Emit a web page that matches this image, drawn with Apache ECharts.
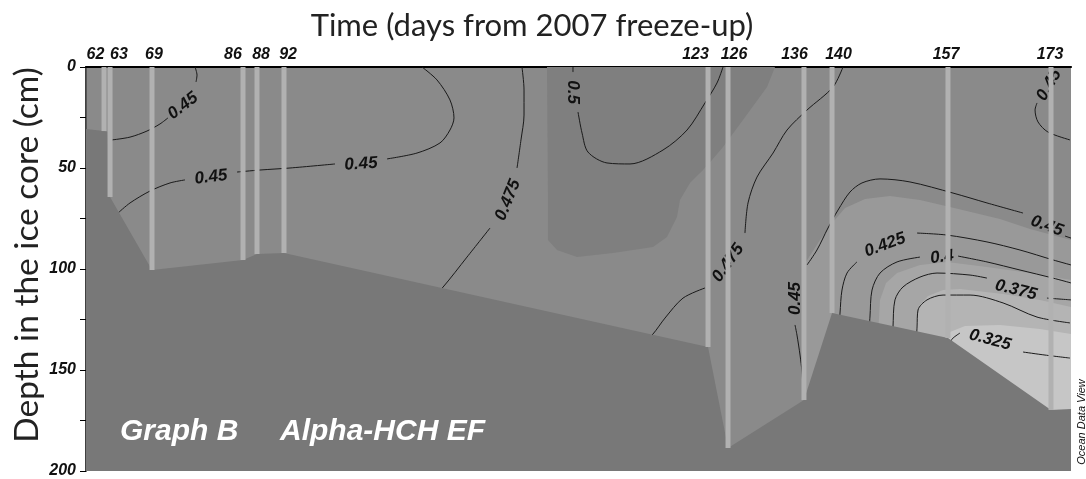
<!DOCTYPE html>
<html><head><meta charset="utf-8">
<script src="https://cdn.jsdelivr.net/npm/echarts@6/dist/echarts.min.js"></script>
<style>html,body{margin:0;padding:0;background:#fff}#c{width:1086px;height:479px}</style>
</head><body><div id="c"></div>
<script>
// ---- stations (top axis) ----
const stationDays = [62, 63, 69, 86, 88, 92, 123, 126, 136, 140, 157, 173];
const stationPos  = [1.83, 2.44, 6.70, 15.94, 17.36, 20.10, 63.15, 65.18, 72.89, 75.74, 87.51, 97.97];
const coreLength  = [31.7, 64.4, 100.5, 95.5, 92.6, 92.1, 138.6, 188.6, 164.9, 121.8, 134.2, 169.8];
const dayLabelPos = [0.96, 3.35, 6.90, 14.92, 17.77, 20.51, 61.88, 65.79, 71.93, 76.40, 87.31, 97.87];
const depthTicks  = [0, 50, 100, 150, 200];

// ---- shaded regions (position, depth cm) ----
const iceBase = [[0,30.7],[1.83,31.7],[2.2,32.0],[2.35,64.0],[2.44,64.4],[6.70,100.5],[15.94,95.5],[17.36,92.6],[20.10,92.1],[63.15,138.6],[65.18,188.6],[72.89,164.9],[75.74,121.8],[87.51,134.2],[97.97,169.8],[100,169.3],[100,200],[0,200]];
const highPatch = [[46.80,0],[69.95,0],[69.14,9.9],[66.70,26.2],[64.67,39.6],[63.55,46.0],[62.64,51.0],[61.32,57.4],[60.30,65.8],[60.00,74.3],[58.98,84.2],[57.56,89.1],[53.50,92.1],[49.85,94.1],[47.82,90.6],[46.90,85.6],[46.90,65.8]];
const lowBand1 = [[72.89,200],[72.89,98.0],[74.52,85.6],[75.84,76.7],[77.06,69.8],[79.09,65.3],[81.62,63.9],[84.67,65.8],[87.72,69.3],[92.79,75.2],[95.84,80.2],[100,85.6],[100,200]];
const lowBand2 = [[80.41,200],[80.41,132.7],[80.61,115.3],[81.22,106.9],[82.34,102.0],[84.67,98.0],[87.41,96.5],[91.47,99.0],[95.84,102.0],[100,105.4],[100,200]];
const lowBand3 = [[84.16,200],[84.16,137.6],[84.37,124.3],[84.67,117.8],[85.48,113.4],[87.01,110.4],[88.73,109.9],[93.10,112.4],[96.85,115.3],[100,118.8],[100,200]];
const lowBand4 = [[87.21,200],[87.21,137.6],[87.72,131.2],[89.24,128.2],[92.79,127.7],[96.85,129.7],[100,132.2],[100,200]];

// ---- contour line segments ----
const iso045a1 = [[11.07,0],[11.27,4.0],[11.17,7.4]];
const iso045a2 = [[8.32,25.2],[7.51,28.2],[6.19,31.7],[4.47,34.7],[2.64,36.1]];
const iso045b1 = [[3.25,72.3],[4.47,67.3],[6.50,61.4],[8.53,57.4],[10.05,55.9]];
const iso045b2 = [[15.33,52.0],[17.66,51.0],[20.71,50.0],[25.28,48.0]];
const iso045b3 = [[30.56,45.5],[33.60,42.6],[35.94,37.6],[36.95,31.2],[37.36,25.2],[36.95,16.3],[35.63,6.4],[34.11,0]];
const iso0475a1 = [[44.26,0],[44.47,11.4],[44.47,23.8],[44.16,36.1],[43.76,50.0]];
const iso0475a2 = [[41.02,79.7],[38.68,94.1],[36.24,109.0],[35.5,112]];
const iso05a = [[49.44,0],[49.44,2.5]];
const iso05b = [[49.95,22.3],[50.36,32.7],[50.96,42.1],[52.89,47.5],[55.23,48.0],[58.58,41.1],[61.02,31.2],[62.84,17.8],[64.06,7.9],[64.67,0]];
const iso0475b1 = [[76.85,0],[75.84,9.9],[73.20,21.3],[71.17,31.2],[69.75,42.6],[68.12,54.5],[67.21,67.3],[66.90,82.2]];
const iso0475b2 = [[62.84,109.4],[60.61,114.4],[58.78,124.3],[57.56,132.2],[56.5,137]];
const iso045c1 = [[72.8,160],[72.69,151.0],[72.49,142.6],[72.18,132.7],[71.98,127.7]];
const iso045c2 = [[73.20,98.0],[74.21,90.6],[75.33,79.7],[76.35,70.8],[77.56,61.9],[78.78,57.4],[80.61,55.4],[83.65,56.9],[88.02,62.4],[91.47,67.3],[95.13,72.3]];
const iso045c3 = [[99.4,83.7],[100,84.7]];
const iso0425a = [[76.5,126],[76.55,121.8],[76.75,110.4],[77.26,102.0],[78.27,96.5]];
const iso0425b = [[84.37,82.2],[87.41,83.2],[91.47,86.6],[94.82,90.6],[98.17,95.5],[100,98.0]];
const iso04a = [[79.5,130],[79.59,123.8],[79.80,110.4],[80.61,102.0],[82.34,96.5],[84.67,94.1]];
const iso04b = [[88.53,93.6],[91.47,96.5],[94.82,100.5],[98.17,104.5],[100,106.9]];
const iso0375a = [[81.9,135],[81.93,128.7],[82.13,115.3],[82.94,108.9],[84.67,104.0],[86.40,102.0],[89.75,103.0],[91.47,104.5]];
const iso0375b = [[97.56,114.4],[100,115.3]];
const iso035 = [[84.3,136],[84.37,128.7],[84.47,120.3],[85.38,115.3],[87.01,112.9],[89.75,112.9],[93.10,116.8],[96.55,123.8],[99.90,126.7]];
const iso0325a = [[87.6,137],[88.02,134.2],[88.73,131.7]];
const iso0325b = [[95.13,141.1],[97.36,142.6],[99.90,144.1]];
const iso045d = [[99.90,36.1],[97.66,32.2],[96.65,27.2],[96.35,21.3],[96.55,17.8]];

// ---- contour labels: [position, depth, text, rotation deg] ----
const contourLabels = [
  [9.85, 19.3, '0.45', 38],
  [12.69, 54.5, '0.45', 7],
  [27.92, 48.0, '0.45', 4],
  [42.84, 65.8, '0.475', 68],
  [49.44, 12.4, '0.5', -90],
  [65.18, 97.0, '0.475', 55],
  [72.03, 114.6, '0.45', 90],
  [97.56, 78.7, '0.45', -20],
  [81.12, 88.1, '0.425', 20],
  [86.90, 94.1, '0.4', 8],
  [94.42, 110.4, '0.375', -14],
  [91.78, 135.1, '0.325', -15],
  [97.77, 8.9, '0.45', 60]
];

const contourSegs = [iso045a1, iso045a2, iso045b1, iso045b2, iso045b3, iso0475a1, iso0475a2, iso05a, iso05b,
  iso0475b1, iso0475b2, iso045c1, iso045c2, iso045c3, iso0425a, iso0425b, iso04a, iso04b, iso0375a, iso0375b,
  iso035, iso0325a, iso0325b, iso045d];

function poly(pts, color, z) {
  return { type: 'custom', silent: true, z: z, data: [[pts[0][0], pts[0][1]]],
    renderItem: function (params, api) {
      return { type: 'polygon', shape: { points: pts.map(function (p) { return api.coord(p); }) }, style: { fill: color } };
    } };
}

const series = [
  poly(highPatch, '#7f7f7f', 1),
  poly(lowBand1, '#999999', 1),
  poly(lowBand2, '#a6a6a6', 1),
  poly(lowBand3, '#b4b4b4', 1),
  poly(lowBand4, '#c6c6c6', 1)
];
contourSegs.forEach(function (seg) {
  series.push({ type: 'line', data: seg, smooth: 0.3, showSymbol: false, symbol: 'none', silent: true, z: 2,
    lineStyle: { color: '#1a1a1a', width: 1 } });
});
series.push(poly(iceBase, '#787878', 3));
series.push({ type: 'custom', silent: true, z: 4, data: contourLabels.map(function (l) { return [l[0], l[1]]; }),
  renderItem: function (params, api) {
    const L = contourLabels[params.dataIndex];
    const c = api.coord([L[0], L[1]]);
    return { type: 'text', x: c[0], y: c[1], rotation: L[3] * Math.PI / 180,
      style: { text: L[2], fill: '#111', font: 'italic bold 17px "Liberation Sans", Arial, sans-serif', align: 'center', verticalAlign: 'middle' } };
  } });
series.push({ type: 'custom', silent: true, z: 5, data: stationPos.map(function (p, i) { return [p, coreLength[i]]; }),
  renderItem: function (params, api) {
    const a = api.coord([api.value(0), 0]), b = api.coord([api.value(0), api.value(1)]);
    return { type: 'line', shape: { x1: a[0], y1: a[1], x2: b[0], y2: b[1] }, style: { stroke: '#b1b1b1', lineWidth: 5 } };
  } });

const chart = echarts.init(document.getElementById('c'), null, { renderer: 'canvas' });
chart.setOption({
  animation: false,
  backgroundColor: '#ffffff',
  grid: { left: 86, right: 15, top: 67, bottom: 8, show: true, backgroundColor: '#8a8a8a', borderWidth: 0, outerBoundsMode: 'none' },
  xAxis: [
    { type: 'value', position: 'top', min: 0, max: 100, splitLine: { show: false },
      axisLine: { show: true, lineStyle: { color: '#555', width: 1.5 } }, axisTick: { show: false },
      axisLabel: { customValues: dayLabelPos, margin: 4, color: '#111', fontSize: 16, fontStyle: 'italic', fontWeight: 'bold',
        fontFamily: '"Liberation Sans", Arial, sans-serif',
        formatter: function (v) { const i = dayLabelPos.findIndex(function (p) { return Math.abs(p - v) < 1e-6; }); return i >= 0 ? String(stationDays[i]) : ''; } } },
    { type: 'value', position: 'bottom', min: 0, max: 100, splitLine: { show: false },
      axisLine: { show: true, lineStyle: { color: '#000', width: 2 } }, axisTick: { show: false }, axisLabel: { show: false } }
  ],
  yAxis: [
    { type: 'value', inverse: true, min: 0, max: 200, interval: 25, splitLine: { show: false },
      axisLine: { show: true, lineStyle: { color: '#000', width: 1.5 } },
      axisTick: { show: true, inside: false, length: 6, lineStyle: { color: '#000' } },
      axisLabel: { margin: 10, color: '#111', fontSize: 16, fontStyle: 'italic', fontWeight: 'bold',
        fontFamily: '"Liberation Sans", Arial, sans-serif',
        formatter: function (v) { return depthTicks.indexOf(v) >= 0 ? String(v) : ''; } } },
    { type: 'value', position: 'right', inverse: true, min: 0, max: 200, splitLine: { show: false },
      axisLine: { show: true, lineStyle: { color: '#555', width: 1 } }, axisTick: { show: false }, axisLabel: { show: false } }
  ],
  graphic: [
    { type: 'text', x: 532, y: 26, z: 10, style: { text: 'Time (days from 2007 freeze-up)', font: '31px Lato, "Open Sans", sans-serif', fill: '#222', align: 'center', verticalAlign: 'middle' } },
    { type: 'text', x: 27, y: 255, rotation: Math.PI / 2, z: 10, style: { text: 'Depth in the ice core (cm)', font: '33.5px Lato, "Open Sans", sans-serif', fill: '#222', align: 'center', verticalAlign: 'middle' } },
    { type: 'text', x: 120, y: 432, z: 10, style: { text: 'Graph B', font: 'italic bold 30px "Liberation Sans", Arial, sans-serif', fill: '#fff', align: 'left', verticalAlign: 'middle' } },
    { type: 'text', x: 280, y: 432, z: 10, style: { text: 'Alpha-HCH EF', font: 'italic bold 30px "Liberation Sans", Arial, sans-serif', fill: '#fff', align: 'left', verticalAlign: 'middle' } },
    { type: 'text', x: 1082, y: 422, rotation: Math.PI / 2, z: 10, style: { text: 'Ocean Data View', font: 'italic 11px "Liberation Sans", Arial, sans-serif', fill: '#111', align: 'center', verticalAlign: 'middle' } }
  ],
  series: series
});
</script></body></html>
